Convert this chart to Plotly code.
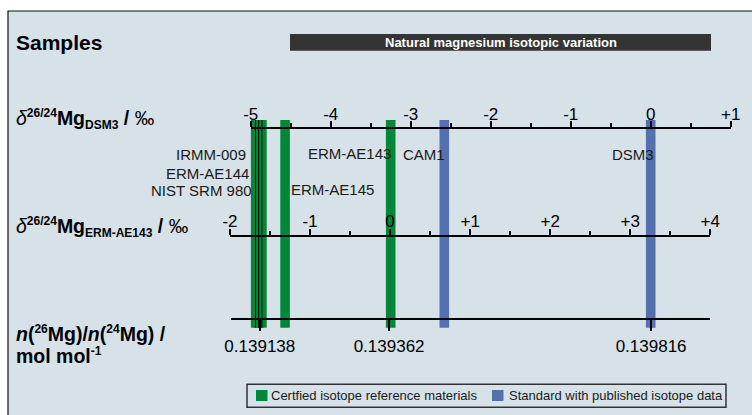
import plotly.graph_objects as go

W, H = 752, 415
OFF = 0  # page body margin is removed below, so page pixels == figure pixels
FONT = "Liberation Sans, Arial, sans-serif"

# ---------------- data ----------------
sample_names = ["IRMM-009", "ERM-AE144", "NIST SRM 980", "ERM-AE145", "ERM-AE143", "CAM1", "DSM3"]
delta_dsm3 = [-4.94, -4.90, -4.86, -4.57, -3.25, -2.58, 0.0]
sample_group = ["certified", "certified", "certified", "certified", "certified", "standard", "standard"]
outlined = ["IRMM-009", "ERM-AE144", "NIST SRM 980"]

dsm3_ticks = [-5, -4, -3, -2, -1, 0, 1]
dsm3_ticktext = ["-5", "-4", "-3", "-2", "-1", "0", "+1"]
erm_ticks = [-2, -1, 0, 1, 2, 3, 4]
erm_ticktext = ["-2", "-1", "0", "+1", "+2", "+3", "+4"]
ratio_ticks = [0.139138, 0.139362, 0.139816]
ratio_ticktext = ["0.139138", "0.139362", "0.139816"]

legend_labels = ["Certfied isotope reference materials", "Standard with published isotope data"]
group_keys = ["certified", "standard"]

# ---------------- style ----------------
BG = "#d6e1e8"
GREEN = "#00873a"
BLUE = "#5470ae"
BAR_TOP, BAR_BOTTOM = 120, 327.7
BAR_W = 0.12
colors = {"certified": GREEN, "standard": BLUE}


def fx(p):
    return (p - OFF) / W


def fy(p):
    return 1 - (p - OFF) / H


fig = go.Figure()

for g in group_keys:
    xs = [d for d, gg in zip(delta_dsm3, sample_group) if gg == g]
    fig.add_trace(go.Bar(
        x=xs, y=[BAR_BOTTOM - BAR_TOP] * len(xs), base=BAR_TOP, width=BAR_W,
        marker=dict(color=colors[g], line=dict(width=0)),
        xaxis="x", yaxis="y", showlegend=False, hoverinfo="skip"))

lx, ly = [], []
for n, d in zip(sample_names, delta_dsm3):
    if n in outlined:
        lx += [d, d, None]
        ly += [BAR_TOP, BAR_BOTTOM, None]
fig.add_trace(go.Scatter(x=lx, y=ly, mode="lines", line=dict(color="black", width=1),
                         xaxis="x", yaxis="y", showlegend=False, hoverinfo="skip"))

for ax in ["x2", "x3"]:
    fig.add_trace(go.Scatter(x=[None], y=[None], xaxis=ax, yaxis="y",
                             showlegend=False, hoverinfo="skip"))

common = dict(showline=True, linecolor="black", linewidth=2, ticks="outside",
              tickcolor="black", tickwidth=2, showgrid=False, zeroline=False,
              tickfont=dict(family=FONT, size=17, color="black"), anchor="free",
              tickmode="array", fixedrange=True, automargin=False)
minor = dict(tickmode="linear", tick0=0, dtick=0.5, ticks="outside", ticklen=4,
             tickwidth=2, tickcolor="black", showgrid=False)

fig.update_layout(
    width=W, height=H, margin=dict(l=0, r=0, t=0, b=0, autoexpand=False),
    paper_bgcolor="white", plot_bgcolor="rgba(0,0,0,0)",
    showlegend=False, barmode="overlay",
    xaxis=dict(**common, domain=[fx(250.7), fx(730.7)], range=[-5, 1], side="top",
               position=fy(127.5), tickvals=dsm3_ticks, ticktext=dsm3_ticktext,
               ticklen=6, minor=minor, ticklabelstandoff=-6),
    xaxis2=dict(**common, domain=[fx(230), fx(710.3)], range=[-2, 4], side="top",
                position=fy(235.5), tickvals=erm_ticks, ticktext=erm_ticktext,
                ticklen=6, minor=minor, ticklabelstandoff=-5),
    xaxis3=dict(**common, domain=[fx(231), fx(710)], range=[0.13908808, 0.13991806],
                side="bottom", position=fy(319.3), tickvals=ratio_ticks,
                ticktext=ratio_ticktext, ticklen=11),
    yaxis=dict(domain=[0, 1], range=[H + OFF, OFF], visible=False, fixedrange=True,
               automargin=False),
)

shapes = [
    dict(type="rect", xref="paper", yref="paper", x0=fx(8), x1=1.2, y0=fy(11), y1=-0.2,
         fillcolor=BG, line=dict(color="#111", width=1.2), layer="below"),
    dict(type="rect", xref="paper", yref="paper", x0=fx(290), x1=fx(711), y0=fy(34), y1=fy(50.7),
         fillcolor="#343434", line=dict(width=0), layer="below"),
    dict(type="rect", xref="paper", yref="paper", x0=fx(247), x1=fx(726), y0=fy(384.3), y1=fy(407.3),
         fillcolor="rgba(0,0,0,0)", line=dict(color="#333", width=1.5)),
]
legend_sq = [256, 492]
legend_tx = [270, 507.5]
for i, g in enumerate(group_keys):
    shapes.append(dict(type="rect", xref="paper", yref="paper",
                       x0=fx(legend_sq[i]), x1=fx(legend_sq[i] + 11.5), y0=fy(390), y1=fy(401),
                       fillcolor=colors[g], line=dict(width=0)))
fig.update_layout(shapes=shapes)

ann = []


def add(text, x, y, size, xanchor="left", color="black", xref="paper", xshift=0):
    ann.append(dict(text=text, x=x, y=y, xref=xref, yref="paper", xanchor=xanchor,
                    yanchor="middle", showarrow=False, borderpad=0, xshift=xshift,
                    font=dict(family=FONT, size=size, color=color)))


add("<b>Samples</b>", fx(15), fy(43), 21)
add("<b>Natural magnesium isotopic variation</b>", fx(500.5), fy(42.5), 13, "center", "white")

S = '<span style="font-size:12px">'
add('<i>δ</i><sup>' + S + '<b>26/24</b></span></sup><b>Mg</b><sub>' + S + '<b>DSM3</b></span></sub><b> / </b>‰',
    fx(15), fy(118.5), 19.5)
add('<i>δ</i><sup>' + S + '<b>26/24</b></span></sup><b>Mg</b><sub>' + S + '<b>ERM-AE143</b></span></sub><b> / </b>‰',
    fx(15), fy(226.5), 19.5)
add('<b><i>n</i>(</b><sup>' + S + '<b>26</b></span></sup><b>Mg)/<i>n</i>(</b><sup>' + S +
    '<b>24</b></span></sup><b>Mg) /</b>', fx(15), fy(333), 19.5)
add('<b>mol mol</b><sup>' + S + '<b>-1</b></span></sup>', fx(15), fy(355), 19.5)

# sample labels
label_pos = {
    "IRMM-009": ("right", -8.5, 154),
    "ERM-AE144": ("right", -8.5, 173.3),
    "NIST SRM 980": ("right", -8.5, 190.7),
    "ERM-AE145": ("left", 5, 190),
    "ERM-AE143": ("right", 1, 153.5),
    "CAM1": ("right", 2, 154),
    "DSM3": ("right", 4, 154),
}
for n, d in zip(sample_names, delta_dsm3):
    xa, xs, yy = label_pos[n]
    add(n, d, fy(yy), 15, xa, "#1a1a1a", xref="x", xshift=xs)

for i, lab in enumerate(legend_labels):
    add(lab, fx(legend_tx[i]), fy(395.7), 13, "left", "#1a1a1a")

fig.update_layout(annotations=ann)
fig.write_html("out.html",
               config={"displayModeBar": False},
               post_script="document.body.style.margin='0';"
                           "document.documentElement.style.overflow='hidden';"
                           "document.body.style.overflow='hidden';")
